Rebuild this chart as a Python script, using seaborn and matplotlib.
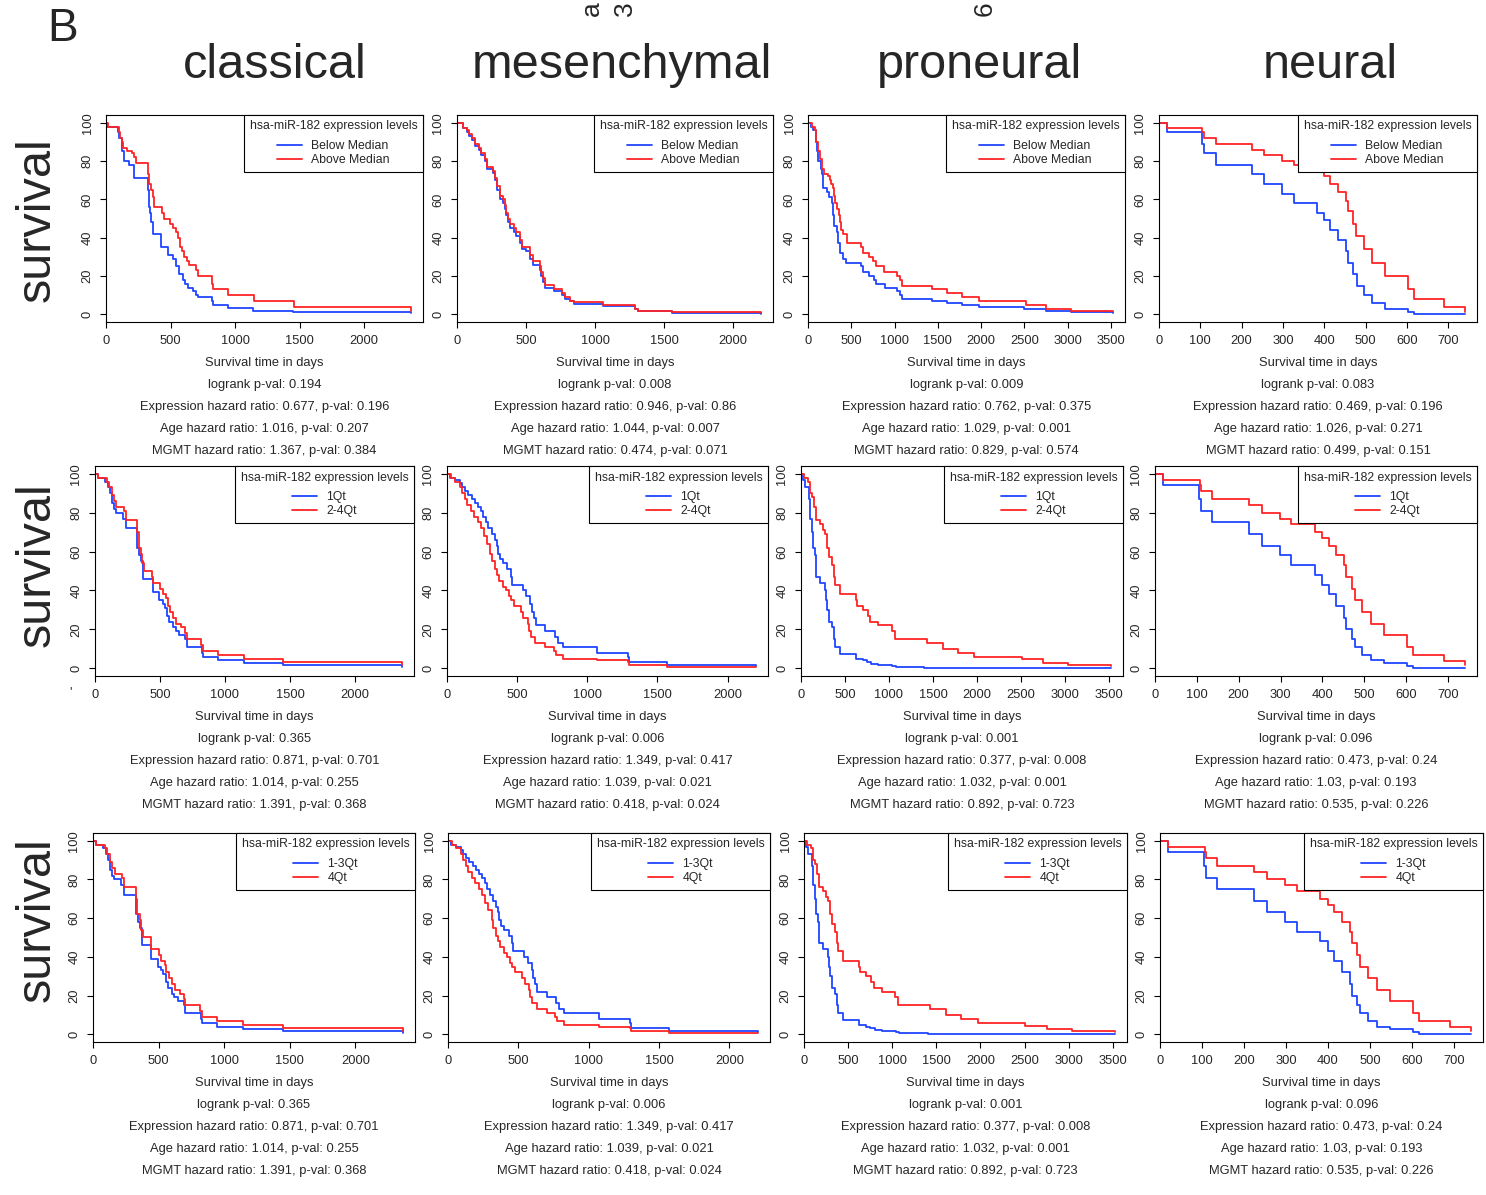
import numpy as np
import pandas as pd
import seaborn as sns
import matplotlib
matplotlib.use("Agg")
import matplotlib.pyplot as plt

# ---------------- data ----------------
subtypes = ["classical", "mesenchymal", "proneural", "neural"]
row_groups = [["Below Median", "Above Median"], ["1Qt", "2-4Qt"], ["1-3Qt", "4Qt"]]
legend_title = "hsa-miR-182 expression levels"

x_max = [2360, 2200, 3520, 740]
x_ticks = [[0, 500, 1000, 1500, 2000],
           [0, 500, 1000, 1500, 2000],
           [0, 500, 1000, 1500, 2000, 2500, 3000, 3500],
           [0, 100, 200, 300, 400, 500, 600, 700]]
y_ticks = [0, 20, 40, 60, 80, 100]

# median split (row 1)
cla_med_below_t = [0, 10, 90, 103, 124, 142, 180, 220, 323, 330, 340, 352, 366, 426, 477, 516, 542, 563, 594, 614,
                   632, 671, 697, 710, 820, 830, 942, 1135, 1445, 2361]
cla_med_below_s = [100, 98, 95, 92, 85, 80, 78, 71, 65, 56, 53, 48, 42, 35, 31, 29, 25, 21, 18, 16,
                   14, 12, 10, 9, 7, 5, 3.5, 2, 1, 0.5]
cla_med_above_t = [0, 15, 100, 110, 125, 135, 160, 200, 215, 230, 325, 335, 350, 365, 375, 435, 450, 495, 520, 540,
                   555, 570, 590, 605, 625, 640, 695, 715, 820, 830, 945, 1145, 1455, 2361]
cla_med_above_s = [100, 98, 95, 92, 90, 87, 85, 84, 82, 79, 73, 68, 65, 61, 56, 53, 50, 47, 45, 43,
                   40, 35, 33, 30, 28, 26, 23, 20, 16, 13, 10, 7, 4, 1.5]

mes_med_t = [0, 40, 70, 90, 110, 130, 160, 175, 200, 220, 260, 275, 290, 310, 330, 345, 355, 370, 385, 415,
             430, 455, 470, 500, 530, 550, 600, 610, 625, 640, 700, 760, 780, 820, 850, 1060, 1290, 1310, 1560, 2200]
mes_med_below_s = [100, 97, 95, 93, 91, 88, 86, 83, 80, 76, 74, 70, 65, 60, 58, 55, 52, 48, 45, 43,
                   41, 37, 34, 33, 29, 26, 23, 20, 17, 14, 12, 10, 8, 7, 5.5, 4.5, 3, 1.5, 0.5, 0.3]
mes_med_above_s = [100, 97, 96, 94, 92, 89, 87, 84, 81, 77, 75, 71, 67, 62, 60, 57, 53, 50, 47, 45,
                   43, 39, 35, 35, 31, 28, 25, 22, 19, 15.5, 13, 11, 9, 7, 6.5, 5, 3, 2, 1, 0.5]

pro_med_below_t = [0, 30, 60, 90, 100, 120, 145, 160, 172, 220, 240, 275, 290, 300, 330, 350, 370, 400, 440, 615,
                   640, 700, 760, 790, 890, 1030, 1060, 1090, 1430, 1610, 1780, 1970, 2500, 2750, 3040, 3520]
pro_med_below_s = [100, 98, 96, 90, 85, 80, 76, 73, 66, 64, 61, 58, 52, 46, 43, 37, 32, 29, 27, 25,
                   22, 20, 18, 16, 14, 12, 10, 8, 7, 6, 5, 4, 3, 2, 1, 0.5]
pro_med_above_t = [0, 50, 85, 95, 110, 140, 165, 190, 230, 250, 270, 285, 295, 310, 340, 360, 370, 380, 400, 450,
                   610, 630, 700, 750, 790, 880, 1030, 1060, 1080, 1430, 1600, 1780, 1980, 2520, 2750, 3040, 3520]
pro_med_above_s = [100, 98, 96, 90, 85, 81, 76, 73, 72, 70, 68, 66, 62, 58, 55, 52, 48, 44, 42, 37,
                   35, 32, 30, 28, 25, 22, 20, 18, 15, 13, 11, 9, 7, 5, 3, 1.5, 1.5]

neu_med_below_t = [0, 20, 103, 110, 137, 225, 255, 298, 326, 382, 400, 415, 433, 452, 457, 470, 478, 495, 516, 547,
                   603, 616, 740]
neu_med_below_s = [100, 95, 89, 84, 78, 73, 68, 63, 58, 53, 49, 44, 39, 33, 27, 21, 15, 10, 6, 3, 1, 0.3, 0]
neu_med_above_t = [0, 20, 105, 110, 137, 225, 255, 298, 326, 382, 400, 415, 433, 452, 457, 470, 477, 495, 516, 547,
                   603, 616, 690, 740]
neu_med_above_s = [100, 97, 95, 92, 89, 86, 83, 80, 78, 75, 72, 68, 64, 59, 54, 47, 41, 34, 27, 20, 13, 8, 4, 1]

# quartile split (rows 2 and 3 show the same curves)
cla_q_low_t = [0, 20, 80, 100, 115, 130, 145, 160, 215, 235, 325, 340, 355, 370, 445, 495, 520, 535, 555, 570,
               600, 620, 650, 695, 705, 820, 830, 945, 1145, 1450, 2360]
cla_q_low_s = [100, 98, 96, 93, 90, 85, 82, 80, 77, 72, 62, 58, 55, 46, 39, 35, 33, 31, 27, 24,
               21, 19, 17, 15, 11, 8, 6, 4, 2.5, 1.5, 0.5]
cla_q_high_t = [0, 20, 90, 110, 130, 145, 165, 220, 235, 325, 335, 355, 365, 380, 440, 445, 500, 520, 545, 560,
                580, 600, 625, 660, 690, 705, 815, 830, 945, 1145, 1450, 2360]
cla_q_high_s = [100, 98, 96, 93, 89, 86, 83, 81, 76, 70, 62, 59, 54, 50, 47, 44, 41, 38, 36, 32,
                29, 26, 23, 21, 18, 15, 12, 9, 7, 5, 3, 1.5]

mes_q_low_t = [0, 20, 60, 90, 110, 130, 150, 180, 200, 220, 240, 260, 280, 295, 320, 340, 355, 365, 375, 400,
               430, 455, 465, 540, 565, 595, 605, 620, 635, 700, 770, 790, 825, 1070, 1290, 1300, 1570, 2200]
mes_q_low_s = [100, 98, 97, 95, 93, 91, 89, 87, 85, 83, 81, 78, 75, 72, 69, 66, 63, 59, 56, 54,
               51, 47, 43, 40, 37, 33, 29, 26, 22, 19, 16, 13, 11, 8, 6, 3, 1.5, 1]
mes_q_high_t = [0, 30, 60, 90, 110, 125, 145, 170, 190, 220, 245, 265, 285, 310, 320, 340, 355, 370, 400, 420,
                440, 455, 475, 525, 545, 575, 585, 600, 630, 700, 760, 775, 825, 1070, 1290, 1300, 1570, 2200]
mes_q_high_s = [100, 98, 96, 93, 90, 87, 84, 81, 78, 75, 72, 68, 64, 59, 55, 51, 48, 45, 42, 40,
                37, 35, 32, 29, 26, 23, 19, 16, 13, 11, 9, 7, 5, 4, 3, 1.5, 0.5, 0.5]

pro_q_low_t = [0, 20, 40, 90, 100, 120, 140, 160, 175, 220, 270, 285, 300, 320, 350, 370, 385, 440, 620, 700,
               750, 800, 880, 1040, 1080, 1400, 3520]
pro_q_low_s = [100, 97, 93, 87, 77, 70, 62, 58, 47, 44, 40, 35, 30, 24, 21, 15, 11, 7.5, 5, 4,
               3, 2, 1.5, 1, 0.5, 0.3, 0]
pro_q_high_t = [0, 30, 80, 100, 120, 145, 175, 220, 250, 270, 290, 300, 320, 350, 370, 390, 445, 620, 640, 700,
                760, 790, 880, 1030, 1070, 1430, 1610, 1780, 1970, 2510, 2750, 3040, 3520]
pro_q_high_s = [100, 98, 96, 90, 88, 83, 76, 74, 71, 69, 66, 62, 57, 53, 47, 43, 38, 35, 32, 30,
                27, 24, 22, 19, 15, 13, 10, 8, 6, 4.5, 2.5, 1.5, 1]

neu_q_low_t = [0, 20, 105, 110, 137, 225, 255, 298, 326, 382, 400, 415, 433, 452, 457, 470, 477, 495, 516, 547,
               603, 616, 740]
neu_q_low_s = [100, 94, 87, 81, 75, 69, 63, 58, 53, 48, 43, 38, 32, 26, 20, 15, 11, 7, 4, 2.5, 1, 0.3, 0]
neu_q_high_t = [0, 20, 107, 110, 137, 225, 255, 298, 326, 382, 400, 415, 433, 452, 457, 470, 477, 495, 516, 547,
                603, 616, 690, 740]
neu_q_high_s = [100, 97, 94, 91, 87, 84, 80, 77, 74, 70, 67, 63, 58, 53, 47, 41, 35, 29, 23, 17, 11, 7, 3.5, 1.5]

# statistics printed below each panel
stats_median = [
    ["0.194", "0.677", "0.196", "1.016", "0.207", "1.367", "0.384"],
    ["0.008", "0.946", "0.86", "1.044", "0.007", "0.474", "0.071"],
    ["0.009", "0.762", "0.375", "1.029", "0.001", "0.829", "0.574"],
    ["0.083", "0.469", "0.196", "1.026", "0.271", "0.499", "0.151"],
]
stats_quartile = [
    ["0.365", "0.871", "0.701", "1.014", "0.255", "1.391", "0.368"],
    ["0.006", "1.349", "0.417", "1.039", "0.021", "0.418", "0.024"],
    ["0.001", "0.377", "0.008", "1.032", "0.001", "0.892", "0.723"],
    ["0.096", "0.473", "0.24", "1.03", "0.193", "0.535", "0.226"],
]

median_curves = [((cla_med_below_t, cla_med_below_s), (cla_med_above_t, cla_med_above_s)),
                 ((mes_med_t, mes_med_below_s), (mes_med_t, mes_med_above_s)),
                 ((pro_med_below_t, pro_med_below_s), (pro_med_above_t, pro_med_above_s)),
                 ((neu_med_below_t, neu_med_below_s), (neu_med_above_t, neu_med_above_s))]
quartile_curves = [((cla_q_low_t, cla_q_low_s), (cla_q_high_t, cla_q_high_s)),
                   ((mes_q_low_t, mes_q_low_s), (mes_q_high_t, mes_q_high_s)),
                   ((pro_q_low_t, pro_q_low_s), (pro_q_high_t, pro_q_high_s)),
                   ((neu_q_low_t, neu_q_low_s), (neu_q_high_t, neu_q_high_s))]
row_curves = [median_curves, quartile_curves, quartile_curves]
row_stats = [stats_median, stats_quartile, stats_quartile]

# ---------------- layout (pixels) ----------------
W, H = 1486, 1195
row_tb = [(115, 322), (466, 676), (833, 1042)]
col_lr = [[(106, 423), (457, 773), (808, 1125), (1159, 1477)],
          [(95, 414), (447, 768), (801, 1123), (1155, 1477)],
          [(93, 415), (448, 770), (804, 1127), (1160, 1483)]]

BLUE = "#1f45ff"
RED = "#ff2424"
FS = 9.3
LEG_FS = 8.8

sns.set_theme(style="white")
plt.rcParams["font.family"] = ["Liberation Sans", "DejaVu Sans"]

fig = plt.figure(figsize=(W / 100, H / 100), dpi=100)


def add_px_axes(l, r, t, b):
    return fig.add_axes([l / W, 1 - b / H, (r - l) / W, (b - t) / H])


for ri in range(3):
    top, bot = row_tb[ri]
    for ci in range(4):
        left, right = col_lr[ri][ci]
        ax = add_px_axes(left, right, top, bot)
        labels = row_groups[ri]
        (t1, s1), (t2, s2) = row_curves[ri][ci]
        df = pd.concat([pd.DataFrame({"time": t1, "surv": s1, "group": labels[0]}),
                        pd.DataFrame({"time": t2, "surv": s2, "group": labels[1]})],
                       ignore_index=True)
        sns.lineplot(data=df, x="time", y="surv", hue="group", hue_order=labels,
                     palette=[BLUE, RED], estimator=None, sort=False,
                     drawstyle="steps-post", lw=1.3, legend=False, ax=ax)
        ax.set_xlim(0, x_max[ci] * 1.04)
        ax.set_ylim(-4, 104)
        ax.set_xticks(x_ticks[ci])
        ax.set_xticklabels([str(v) for v in x_ticks[ci]], fontsize=FS)
        ax.set_yticks(y_ticks)
        ax.set_yticklabels([str(v) for v in y_ticks], fontsize=FS, rotation=90, va="center")
        ax.set_xlabel("")
        ax.set_ylabel("")
        ax.tick_params(direction="out", length=4.5, width=0.8, color="black", pad=4.5,
                       bottom=True, left=True)
        for sp in ax.spines.values():
            sp.set_color("black")
            sp.set_linewidth(0.8)

        leg = ax.legend(ax.lines[:2], labels, title=legend_title, loc="upper right",
                        borderaxespad=0, fancybox=False, edgecolor="black", framealpha=1,
                        fontsize=LEG_FS, title_fontsize=LEG_FS, handlelength=2.0, handletextpad=0.8,
                        labelspacing=0.15, borderpad=0.45)
        leg.get_frame().set_linewidth(0.8)
        # wider gap between the title and the entries, like the R legend
        leg._legend_box.sep = 0.65 * LEG_FS

        st = row_stats[ri][ci]
        lines = ["Survival time in days",
                 f"logrank p-val: {st[0]}",
                 f"Expression hazard ratio: {st[1]}, p-val: {st[2]}",
                 f"Age hazard ratio: {st[3]}, p-val: {st[4]}",
                 f"MGMT hazard ratio: {st[5]}, p-val: {st[6]}"]
        cx = (left + right) / 2
        for k, txt in enumerate(lines):
            fig.text(cx / W, 1 - (bot + 41 + 22 * k) / H, txt, ha="center", va="center", fontsize=FS)

# column headers, row labels, panel letter
for name, x in zip(subtypes, [275, 622, 980, 1330]):
    fig.text(x / W, 1 - 66 / H, name, ha="center", va="center", fontsize=35)
for y in [220, 565, 920]:
    fig.text(37 / W, 1 - y / H, "survival", rotation=90, ha="center", va="center", fontsize=35)
fig.text(47 / W, 1 - 29 / H, "B", ha="left", va="center", fontsize=33)

# fragments of a cropped panel above
for x, s in [(592, "a"), (625, "3"), (985, "6")]:
    fig.text(x / W, 1 - 1 / H, s, rotation=90, ha="center", va="top", fontsize=19)
fig.text(70 / W, 1 - 692 / H, "'", ha="center", va="center", fontsize=FS)

fig.savefig("out.png", dpi=100)
